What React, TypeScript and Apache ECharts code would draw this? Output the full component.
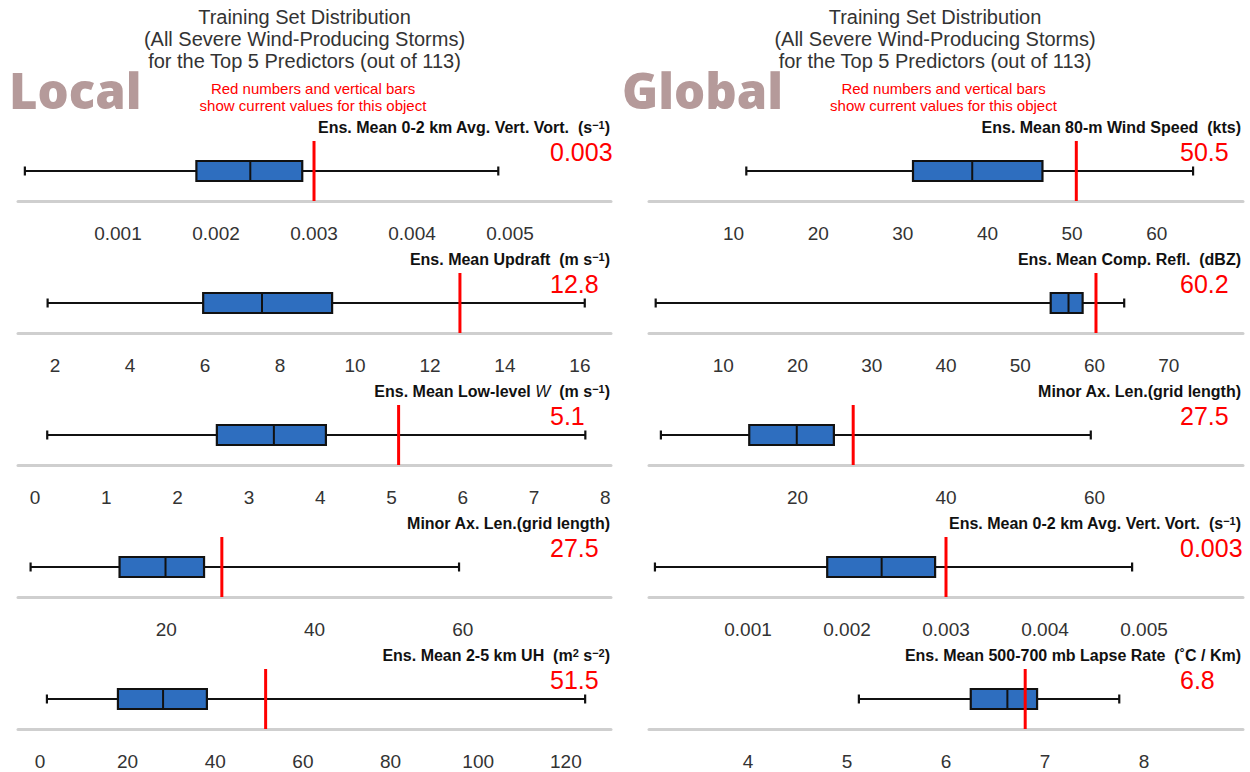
import React, { useEffect, useRef } from "react";
import * as echarts from "echarts";

// ---------- data ----------
const localTitles = [
  "Ens. Mean 0-2 km Avg. Vert. Vort.  (s{sup|−1})",
  "Ens. Mean Updraft  (m s{sup|−1})",
  "Ens. Mean Low-level {it|W}  (m s{sup|−1})",
  "Minor Ax. Len.(grid length)",
  "Ens. Mean 2-5 km UH  (m{sup|2} s{sup|−2})",
];
const globalTitles = [
  "Ens. Mean 80-m Wind Speed  (kts)",
  "Ens. Mean Comp. Refl.  (dBZ)",
  "Minor Ax. Len.(grid length)",
  "Ens. Mean 0-2 km Avg. Vert. Vort.  (s{sup|−1})",
  "Ens. Mean 500-700 mb Lapse Rate  (˚C / Km)",
];
// [whisker low, Q1, median, Q3, whisker high]
const localStats = [
  [0.00005, 0.0018, 0.00235, 0.00288, 0.00488],
  [1.8, 5.95, 7.52, 9.39, 16.13],
  [0.17, 2.55, 3.35, 4.08, 7.72],
  [1.7, 13.7, 19.9, 25.1, 59.5],
  [1.6, 17.8, 28.1, 38.1, 124.4],
];
const globalStats = [
  [11.5, 31.2, 38.2, 46.5, 64.3],
  [0.9, 54.1, 56.5, 58.4, 64.0],
  [1.6, 13.5, 19.9, 24.9, 59.5],
  [0.00006, 0.0018, 0.00235, 0.00289, 0.00488],
  [5.12, 6.25, 6.62, 6.92, 7.75],
];
const localCurrent = [0.003, 12.8, 5.1, 27.5, 51.5];
const globalCurrent = [50.5, 60.2, 27.5, 0.003, 6.8];
const localTicks = [
  [0.001, 0.002, 0.003, 0.004, 0.005],
  [2, 4, 6, 8, 10, 12, 14, 16],
  [0, 1, 2, 3, 4, 5, 6, 7, 8],
  [20, 40, 60],
  [0, 20, 40, 60, 80, 100, 120],
];
const globalTicks = [
  [10, 20, 30, 40, 50, 60],
  [10, 20, 30, 40, 50, 60, 70],
  [20, 40, 60],
  [0.001, 0.002, 0.003, 0.004, 0.005],
  [4, 5, 6, 7, 8],
];
const localRanges = [
  [-0.00002, 0.00603],
  [1.01, 16.83],
  [-0.24, 8.08],
  [0, 80],
  [-5, 130.3],
];
const globalRanges = [
  [0, 70.2],
  [0, 80],
  [0, 80],
  [0, 0.006],
  [3, 9],
];
const mainTitle =
  "Training Set Distribution\n(All Severe Wind-Producing Storms)\nfor the Top 5 Predictors (out of 113)";
const noteText = "Red numbers and vertical bars\nshow current values for this object";
const sideLabels = ["Local", "Global"];

// ---------- layout ----------
const GRID_LEFT = [18, 649];
const GRID_WIDTH = [593, 594];
const BASE0 = 201;
const STEP = 132;
const GRID_H = 60;
const FONT = "'Liberation Sans', Arial, sans-serif";
const NARROW = "'Liberation Sans Narrow', 'Liberation Sans', Arial, sans-serif";

function fmt(v: number) {
  return String(v);
}

export default function App() {
  const ref = useRef<HTMLDivElement>(null);

  useEffect(() => {
    if (!ref.current) return;
    const chart = echarts.init(ref.current, null, { renderer: "svg" });

    const cols = [
      { titles: localTitles, stats: localStats, current: localCurrent, ticks: localTicks, ranges: localRanges },
      { titles: globalTitles, stats: globalStats, current: globalCurrent, ticks: globalTicks, ranges: globalRanges },
    ];

    const grids: any[] = [];
    const xAxes: any[] = [];
    const yAxes: any[] = [];
    const series: any[] = [];
    const graphics: any[] = [];

    cols.forEach((col, c) => {
      const shift = c === 0 ? 0 : 630.5;
      graphics.push({
        type: "text",
        x: 304.5 + shift,
        y: 6,
        style: {
          text: mainTitle,
          align: "center",
          verticalAlign: "top",
          fontSize: 20,
          lineHeight: 22,
          fontFamily: FONT,
          fill: "#333333",
        },
      });
      graphics.push({
        type: "text",
        x: 313 + shift,
        y: 80,
        style: {
          text: noteText,
          align: "center",
          verticalAlign: "top",
          fontSize: 15,
          lineHeight: 17,
          fontFamily: FONT,
          fill: "#ff0000",
        },
      });
      graphics.push({
        type: "text",
        x: c === 0 ? 9 : 622,
        y: 90,
        style: {
          text: sideLabels[c],
          align: "left",
          verticalAlign: "middle",
          fontSize: 49,
          fontWeight: 800,
          fontFamily: "'Open Sans', 'Noto Sans', sans-serif",
          fill: "#b59a9a",
        },
      });

      col.stats.forEach((st, i) => {
        const k = c * 5 + i;
        const base = BASE0 + STEP * i;
        grids.push({
          left: GRID_LEFT[c],
          width: GRID_WIDTH[c],
          top: base - GRID_H,
          height: GRID_H,
          containLabel: false,
        });
        xAxes.push({
          type: "value",
          gridIndex: k,
          min: col.ranges[i][0],
          max: col.ranges[i][1],
          axisLine: { show: true, onZero: false, lineStyle: { color: "#cfcfcf", width: 3 } },
          axisTick: { show: false },
          splitLine: { show: false },
          axisLabel: {
            customValues: col.ticks[i],
            fontSize: 19,
            color: "#333333",
            fontFamily: FONT,
            margin: 23,
            formatter: (v: number) => fmt(v),
          },
        });
        yAxes.push({
          type: "value",
          gridIndex: k,
          min: 0,
          max: 1,
          show: false,
        });
        series.push({
          type: "custom",
          xAxisIndex: k,
          yAxisIndex: k,
          silent: true,
          data: [[...st, col.current[i]]],
          renderItem: (params: any, api: any) => {
            const cs = params.coordSys;
            const cy = cs.y + cs.height / 2;
            const px = (d: number) => api.coord([api.value(d), 0.5])[0];
            const lo = px(0), q1 = px(1), md = px(2), q3 = px(3), hi = px(4), cur = px(5);
            const bh = 10;
            const cap = 4.5;
            const black = "#111111";
            return {
              type: "group",
              children: [
                { type: "line", shape: { x1: lo, y1: cy, x2: hi, y2: cy }, style: { stroke: black, lineWidth: 2.2 } },
                { type: "line", shape: { x1: lo, y1: cy - cap, x2: lo, y2: cy + cap }, style: { stroke: black, lineWidth: 2.2 } },
                { type: "line", shape: { x1: hi, y1: cy - cap, x2: hi, y2: cy + cap }, style: { stroke: black, lineWidth: 2.2 } },
                {
                  type: "rect",
                  shape: { x: q1, y: cy - bh, width: q3 - q1, height: 2 * bh },
                  style: { fill: "#2e6ebf", stroke: black, lineWidth: 2.2 },
                },
                { type: "line", shape: { x1: md, y1: cy - bh, x2: md, y2: cy + bh }, style: { stroke: black, lineWidth: 2 } },
                {
                  type: "line",
                  shape: { x1: cur, y1: cs.y, x2: cur, y2: cs.y + cs.height },
                  style: { stroke: "#ff0000", lineWidth: 3 },
                },
              ],
            };
          },
        });

        // panel title
        graphics.push({
          type: "text",
          x: c === 0 ? 610 : 1241,
          y: base - 74,
          style: {
            text: col.titles[i],
            align: "right",
            verticalAlign: "middle",
            fontSize: 16,
            fontWeight: "bold",
            fontFamily: NARROW,
            fill: "#111111",
            rich: {
              sup: { fontSize: 11, fontWeight: "bold", fontFamily: NARROW, fill: "#111111", verticalAlign: "top", lineHeight: 10 },
              it: { fontSize: 16, fontStyle: "italic", fontWeight: "normal", fontFamily: NARROW, fill: "#111111" },
            },
          },
        });
        // red current value
        graphics.push({
          type: "text",
          x: c === 0 ? 550 : 1180,
          y: base - 49,
          style: {
            text: fmt(col.current[i]),
            align: "left",
            verticalAlign: "middle",
            fontSize: 25,
            fontFamily: FONT,
            fill: "#ff0000",
          },
        });
      });
    });

    chart.setOption({
      animation: false,
      backgroundColor: "#ffffff",
      grid: grids,
      xAxis: xAxes,
      yAxis: yAxes,
      series,
      graphic: graphics,
    });

    return () => chart.dispose();
  }, []);

  return (
    <div
      ref={ref}
      style={{ position: "fixed", left: 0, top: 0, width: 1250, height: 772, background: "#fff" }}
    />
  );
}
